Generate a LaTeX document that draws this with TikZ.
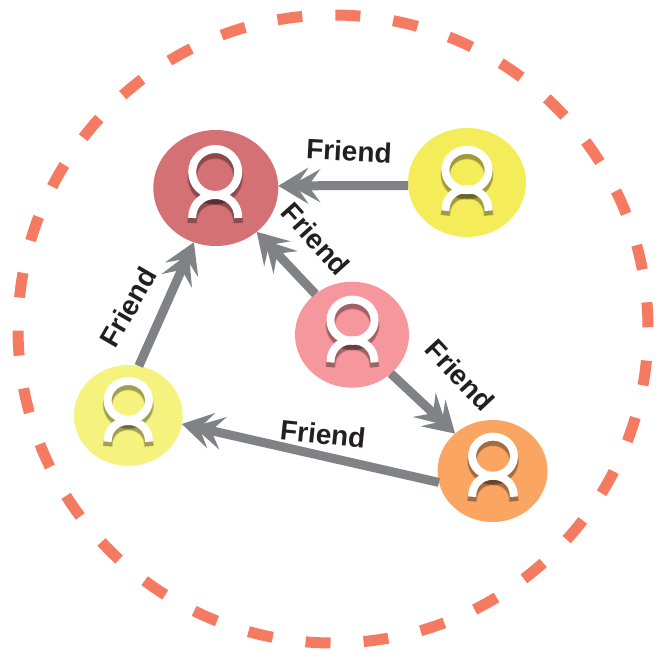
\documentclass[tikz,border=0pt]{standalone}
\usepackage{fontspec}
\setmainfont{Liberation Sans}
\usetikzlibrary{arrows.meta}
\usetikzlibrary{shapes.geometric}
\definecolor{ringred}{RGB}{244,122,97}
\definecolor{arrowgray}{RGB}{128,130,133}
\definecolor{labelblack}{RGB}{35,31,32}
\definecolor{rosered}{RGB}{212,113,117}
\definecolor{sunyellow}{RGB}{245,236,90}
\definecolor{palepink}{RGB}{246,150,157}
\definecolor{paleyellow}{RGB}{245,243,125}
\definecolor{softorange}{RGB}{250,165,98}
\tikzset{person/.style = {ellipse, inner sep = 0, outer sep = 0}}
\tikzset{friendline/.style = {draw = arrowgray, line width = 9,
                              -{Stealth[length=30pt, width=33pt, inset=12pt, sep=-18pt]Stealth[length=30pt, width=36pt, inset=12pt]}}}
\tikzset{friendlabel/.style = {font = \fontsize{28}{30}\selectfont\bfseries, text = labelblack, inner sep = 0}}
\tikzset{pics/usericon/.style 2 args = {code = {
      \foreach \w in {10, 9, 8} {
        \draw [black, opacity = 0.13, line width = \w, shift = {(0, 5)}] (0, 0) ellipse [x radius = 23, y radius = #2];
        \draw [black, opacity = 0.13, line width = \w, shift = {(0, 5)}] (-23, #1) .. controls (-23, #1 - 30.7) and (23, #1 - 30.7) .. (23, #1);
      }
      \draw [white, line width = 8] (0, 0) ellipse [x radius = 23, y radius = #2];
      \draw [white, line width = 8] (-23, #1) .. controls (-23, #1 - 30.7) and (23, #1 - 30.7) .. (23, #1);
    }}}

\begin{document}
\begin{tikzpicture}[x=1pt, y=-1pt]
      \useasboundingbox (0, 0) rectangle (658, 650);
      \draw [ringred, line width = 11, dash pattern = on 25 off 33.12, dash phase = 26.5] (333, 329) ellipse [x radius = 315, y radius = 314];

      \node [person, fill = rosered, minimum width = 125, minimum height = 116] (boss) at (215.8, 188) {};
      \node [person, fill = sunyellow, minimum width = 118, minimum height = 109] (neighbor) at (467, 182.5) {};
      \node [person, fill = palepink, minimum width = 114, minimum height = 106] (self) at (352, 334.7) {};
      \node [person, fill = paleyellow, minimum width = 108.7, minimum height = 101] (classmate) at (128.3, 415.5) {};
      \node [person, fill = softorange, minimum width = 110, minimum height = 102] (colleague) at (492.5, 471) {};

      \pic at (215.2, 172) {usericon = {46}{23}};
      \pic [scale = 0.94] at (467, 170) {usericon = {43.3}{21.5}};
      \pic [scale = 0.96] at (352.5, 320.2) {usericon = {43.9}{21.5}};
      \pic [scale = 0.9] at (128.3, 400.3) {usericon = {46}{21.5}};
      \pic [scale = 0.91] at (493, 456.2) {usericon = {44.5}{21.5}};

      \draw [friendline] (neighbor.183) -- (boss.2);
      \draw [friendline] (self.132) -- (boss.-47);
      \draw [friendline] (classmate.78) -- (boss.-112);
      \draw [friendline] (self.-45) -- (colleague.135);
      \draw [friendline] (colleague.192) -- (classmate.-9);

      \node [friendlabel, rotate = -3] (friendtop) at (349, 151) {Friend};
      \node [friendlabel, rotate = -48] (friendmid) at (316, 239) {Friend};
      \node [friendlabel, rotate = -47] (friendright) at (460, 375) {Friend};
      \node [friendlabel, rotate = -6] (friendbottom) at (323, 434) {Friend};
      \node [friendlabel, rotate = 60] (friendleft) at (128, 307) {Friend};
    \end{tikzpicture}
\end{document}
